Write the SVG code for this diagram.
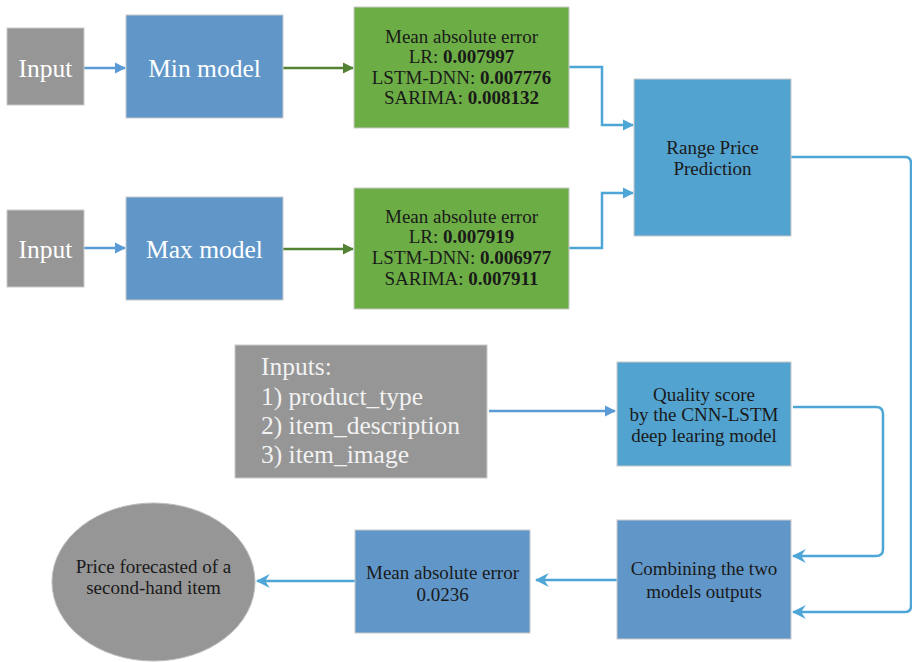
<svg xmlns="http://www.w3.org/2000/svg" width="912" height="662" viewBox="0 0 912 662" font-family="'Liberation Serif','Times New Roman',serif">
<defs>
<marker id="ab" viewBox="0 0 10 10" refX="9" refY="5" markerWidth="4.6" markerHeight="4.6" orient="auto" markerUnits="strokeWidth"><path d="M0,0 L10,5 L0,10 z" fill="#5b9bd5"/></marker>
<marker id="ac" viewBox="0 0 10 10" refX="9" refY="5" markerWidth="4.6" markerHeight="4.6" orient="auto" markerUnits="strokeWidth"><path d="M0,0 L10,5 L0,10 z" fill="#4ea6d6"/></marker>
<marker id="ag" viewBox="0 0 10 10" refX="9" refY="5" markerWidth="4.6" markerHeight="4.6" orient="auto" markerUnits="strokeWidth"><path d="M0,0 L10,5 L0,10 z" fill="#548235"/></marker>
<marker id="av" viewBox="0 0 12 12" refX="11" refY="6" markerWidth="5.6" markerHeight="5.6" orient="auto" markerUnits="strokeWidth"><path d="M0,0 L12,6 L0,12 L4,6 z" fill="#4ea6d6"/></marker>
</defs>
<style>
text{font-family:"Liberation Serif","Times New Roman",serif;text-anchor:middle}
.box{stroke:#c9c9c9;stroke-width:1}
.gray{fill:#969696}
.blue{fill:#6197c8}
.cyan{fill:#52a3cf}
.green{fill:#6cae45}
.w{fill:#ffffff;font-size:25.5px}
.k{fill:#1a1a1a;font-size:19px}
.b{font-weight:bold}
.lb{fill:none;stroke:#5b9bd5;stroke-width:2.5}
.lc{fill:none;stroke:#4ea6d6;stroke-width:2.5}
.lg{fill:none;stroke:#548235;stroke-width:2.5}
</style>
<g id="connectors">
<line class="lb" x1="84" y1="68" x2="125" y2="68" marker-end="url(#ab)"/>
<line class="lb" x1="84" y1="248" x2="125" y2="248" marker-end="url(#ab)"/>
<line class="lg" x1="283" y1="68" x2="353" y2="68" marker-end="url(#ag)"/>
<line class="lg" x1="283" y1="249" x2="353" y2="249" marker-end="url(#ag)"/>
<path class="lc" d="M569,67 H602 V125 H633" marker-end="url(#ac)"/>
<path class="lc" d="M569,248 H602 V193 H633" marker-end="url(#ac)"/>
<path class="lc" d="M791,157 H905 Q911,157 911,163 V606 Q911,612 905,612 H793" marker-end="url(#av)"/>
<line class="lb" x1="489" y1="411" x2="615" y2="411" marker-end="url(#ab)"/>
<path class="lc" d="M793,407 H876 Q883,407 883,414 V549 Q883,556 876,556 H793" marker-end="url(#av)"/>
<line class="lc" x1="617" y1="580" x2="536" y2="580" marker-end="url(#av)"/>
<line class="lc" x1="355" y1="581" x2="257" y2="581" marker-end="url(#av)"/>
</g>
<g id="input1"><rect class="box gray" x="7" y="28" width="77" height="77"/><text class="w" x="45.5" y="77">Input</text></g>
<g id="input2"><rect class="box gray" x="7" y="210" width="77" height="77"/><text class="w" x="45.5" y="258">Input</text></g>
<g id="min-model"><rect class="box blue" x="126" y="15" width="157" height="103"/><text class="w" x="204.5" y="77">Min model</text></g>
<g id="max-model"><rect class="box blue" x="126" y="197" width="157" height="103"/><text class="w" x="204.5" y="258">Max model</text></g>
<g id="mae-min"><rect class="box green" x="354" y="7" width="215" height="121"/>
<text class="k" x="461.5" y="43">Mean absolute error</text>
<text class="k" x="461.5" y="63">LR: <tspan class="b">0.007997</tspan></text>
<text class="k" x="461.5" y="84">LSTM-DNN: <tspan class="b">0.007776</tspan></text>
<text class="k" x="461.5" y="104">SARIMA: <tspan class="b">0.008132</tspan></text></g>
<g id="mae-max"><rect class="box green" x="354" y="188" width="215" height="121"/>
<text class="k" x="461.5" y="223">Mean absolute error</text>
<text class="k" x="461.5" y="243">LR: <tspan class="b">0.007919</tspan></text>
<text class="k" x="461.5" y="264">LSTM-DNN: <tspan class="b">0.006977</tspan></text>
<text class="k" x="461.5" y="285">SARIMA: <tspan class="b">0.007911</tspan></text></g>
<g id="range-price"><rect class="box cyan" x="634" y="79" width="157" height="157"/>
<text class="k" x="712.5" y="154">Range Price</text>
<text class="k" x="712.5" y="175">Prediction</text></g>
<g id="inputs"><rect class="box gray" x="235" y="345" width="252" height="133"/>
<text class="w" x="261" y="375" style="text-anchor:start;fill:#f2f2f2">Inputs:</text>
<text class="w" x="261" y="405" style="text-anchor:start;fill:#f2f2f2">1) product_type</text>
<text class="w" x="261" y="434" style="text-anchor:start;fill:#f2f2f2">2) item_description</text>
<text class="w" x="261" y="463" style="text-anchor:start;fill:#f2f2f2">3) item_image</text></g>
<g id="quality-score"><rect class="box cyan" x="617" y="362" width="174" height="104"/>
<text class="k" x="704" y="401">Quality score</text>
<text class="k" x="704" y="421">by the CNN-LSTM</text>
<text class="k" x="704" y="442">deep learing model</text></g>
<g id="combining"><rect class="box blue" x="617" y="520" width="174" height="119"/>
<text class="k" x="704" y="575">Combining the two</text>
<text class="k" x="704" y="598">models outputs</text></g>
<g id="mae-final"><rect class="box blue" x="355" y="530" width="175" height="103"/>
<text class="k" x="442.5" y="579">Mean absolute error</text>
<text class="k" x="442.5" y="601">0.0236</text></g>
<g id="price-forecast"><ellipse class="gray" cx="153.5" cy="582" rx="101.5" ry="79" stroke="#bdbdbd" stroke-width="1"/>
<text class="k" x="153.5" y="573">Price forecasted of a</text>
<text class="k" x="153.5" y="594">second-hand item</text></g>
</svg>
